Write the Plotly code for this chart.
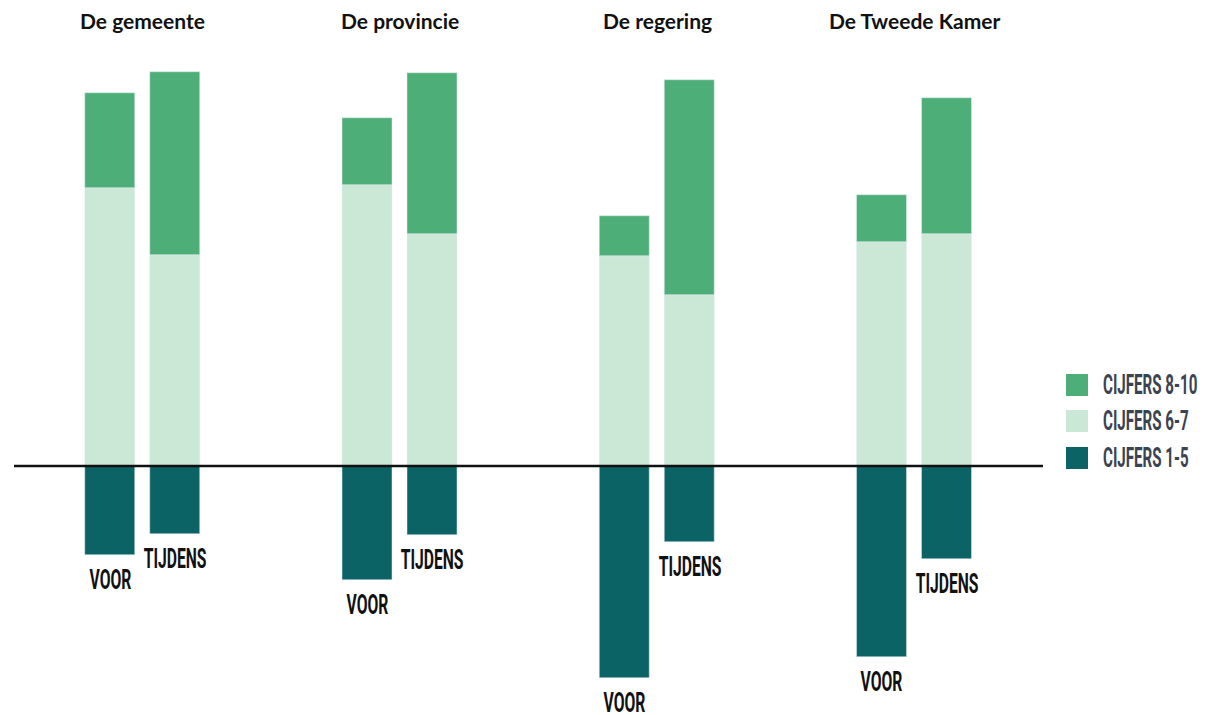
import plotly.graph_objects as go
from plotly.subplots import make_subplots

groups = ["De gemeente", "De provincie", "De regering", "De Tweede Kamer"]
periods = ["VOOR", "TIJDENS"]
series_names = ["CIJFERS 8-10", "CIJFERS 6-7", "CIJFERS 1-5"]

# values per group: [VOOR, TIJDENS] (percentages)
cijfers_1_5 = [[19.3, 14.7], [24.7, 14.9], [45.9, 16.5], [41.3, 20.1]]
cijfers_6_7 = [[60.2, 45.7], [60.8, 50.2], [45.5, 37.0], [48.5, 50.2]]
cijfers_8_10 = [[20.6, 39.6], [14.5, 34.8], [8.7, 46.5], [10.2, 29.4]]

colors = {"CIJFERS 8-10": "#4daf77", "CIJFERS 6-7": "#cbe7d6", "CIJFERS 1-5": "#0b6366"}

W, H = 1211, 715
ML, MR, MT, MB = 14, 168, 60, 15
PW = W - ML - MR
PH = H - MT - MB
PX_PER_UNIT = 4.62
ZERO_PX = 466
y_top = (ZERO_PX - MT) / PX_PER_UNIT
y_bot = -((H - MB) - ZERO_PX) / PX_PER_UNIT

def py(pix):
    """page pixel y -> paper y"""
    return (H - MB - pix) / PH

def px(pix):
    """page pixel x -> paper x"""
    return (pix - ML) / PW

fig = make_subplots(rows=1, cols=4, horizontal_spacing=0, shared_yaxes=True)

cond = "Roboto, sans-serif"
label_font = dict(family=cond, size=28, color="#111111", weight="bold")

for i, g in enumerate(groups):
    col = i + 1
    fig.add_trace(go.Bar(x=periods, y=[-v for v in cijfers_1_5[i]], marker_color=colors["CIJFERS 1-5"],
                         width=0.769, showlegend=False, name="CIJFERS 1-5"), row=1, col=col)
    fig.add_trace(go.Bar(x=periods, y=cijfers_6_7[i], marker_color=colors["CIJFERS 6-7"],
                         width=0.769, showlegend=False, name="CIJFERS 6-7"), row=1, col=col)
    fig.add_trace(go.Bar(x=periods, y=cijfers_8_10[i], marker_color=colors["CIJFERS 8-10"],
                         width=0.769, showlegend=False, name="CIJFERS 8-10"), row=1, col=col)
    xname = "x" if col == 1 else f"x{col}"
    yname = "y" if col == 1 else f"y{col}"
    for p, v in zip(periods, cijfers_1_5[i]):
        fig.add_annotation(x=p, y=-v, xref=xname, yref=yname, text=p, showarrow=False,
                           yanchor="top", yshift=-6, font=label_font)
    fig.add_annotation(x=0.5, xref=f"{xname} domain", y=py(20), yref="paper",
                       text=f"<b>{g}</b>", showarrow=False, yanchor="middle",
                       font=dict(family="Lato, sans-serif", size=21, color="#111111"))

fig.update_xaxes(type="category", categoryorder="array", categoryarray=periods,
                 range=[-1.48, 2.48], showticklabels=False, showgrid=False, zeroline=False,
                 showline=False, ticks="")
fig.update_yaxes(range=[y_bot, y_top], showticklabels=False, showgrid=False, zeroline=False,
                 showline=False, ticks="")

fig.add_shape(type="line", xref="paper", x0=0, x1=1, yref="y", y0=0, y1=0,
              line=dict(color="#111111", width=2.5), layer="above")

# custom legend
legend_rows = [385, 421, 458]
for name, yc in zip(series_names, legend_rows):
    half = 11 / PH
    fig.add_shape(type="rect", xref="paper", yref="paper",
                  x0=px(1066), x1=px(1088), y0=py(yc) - half, y1=py(yc) + half,
                  fillcolor=colors[name], line=dict(width=0))
    fig.add_annotation(xref="paper", yref="paper", x=px(1101), y=py(yc), text=name,
                       xanchor="left", yanchor="middle", showarrow=False,
                       font=dict(family=cond, size=27, color="#3b4350", weight="bold"))

fig.update_layout(width=W, height=H, barmode="relative", bargap=0,
                  margin=dict(l=ML, r=MR, t=MT, b=MB),
                  plot_bgcolor="white", paper_bgcolor="white", showlegend=False)

# remove page margin and condense the label texts horizontally (mimics a condensed display face)
post = """
document.body.style.margin = '0';
document.documentElement.style.overflow = 'hidden';
var gd = document.getElementById('{plot_id}');
function condense() {
  if (!gd) { return; }
  var centers = ['VOOR', 'TIJDENS'];
  gd.querySelectorAll('.annotation-text').forEach(function (t) {
    var s = t.textContent;
    if (centers.indexOf(s) >= 0) {
      t.style.transformBox = 'fill-box';
      t.style.transformOrigin = 'center';
      t.style.transform = 'scaleX(0.56)';
    } else if (s.indexOf('CIJFERS') === 0) {
      t.style.transformBox = 'fill-box';
      t.style.transformOrigin = 'left center';
      t.style.transform = 'scaleX(0.56)';
    }
  });
}
condense();
if (gd && gd.on) { gd.on('plotly_afterplot', condense); }
"""

fig.write_html("out.html", post_script=post, config={"displayModeBar": False})
